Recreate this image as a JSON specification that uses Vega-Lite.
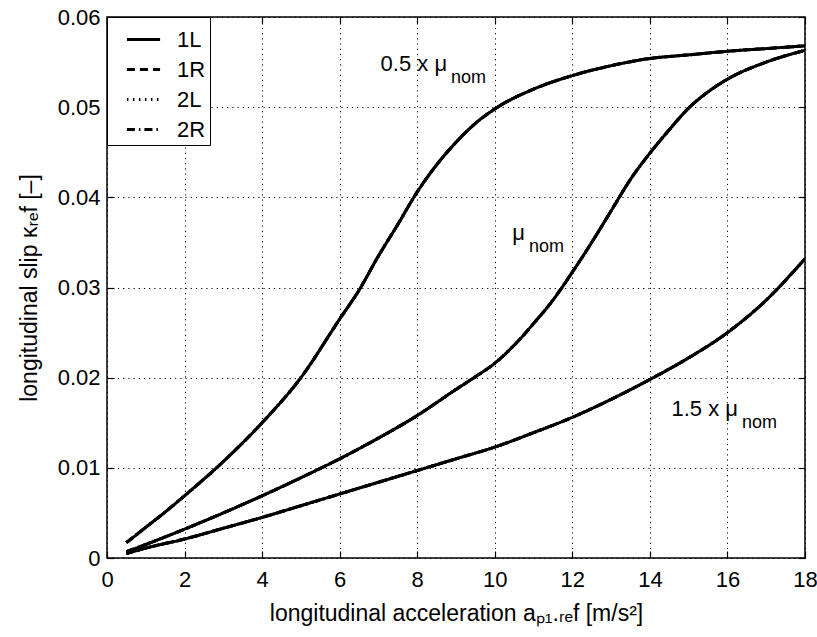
{
  "$schema": "https://vega.github.io/schema/vega-lite/v6.json",
  "width": 698,
  "height": 541,
  "autosize": {"type": "none"},
  "padding": {"left": 107, "top": 17, "right": 12, "bottom": 79},
  "background": "white",
  "config": {
    "font": "Liberation Sans",
    "view": {"stroke": "black", "strokeWidth": 1.5},
    "axis": {
      "labelFont": "Liberation Sans", "titleFont": "Liberation Sans",
      "labelFontSize": 22, "titleFontSize": 23, "labelColor": "black", "titleColor": "black",
      "titleFontWeight": "normal", "domain": false, "labelFlush": false,
      "tickColor": "black", "tickSize": -7, "tickWidth": 1.2,
      "grid": true, "gridColor": "black", "gridOpacity": 1, "gridDash": [1.2, 4], "gridWidth": 1
    }
  },
  "resolve": {"axis": {"x": "independent", "y": "independent"}},
  "datasets": {
    "curves": [
      {"cond": "0.5", "a": 0.5, "1L": 0.0017, "1R": 0.0017, "2L": 0.0017, "2R": 0.0017},
      {"cond": "0.5", "a": 1, "1L": 0.0034, "1R": 0.0034, "2L": 0.0034, "2R": 0.0034},
      {"cond": "0.5", "a": 1.5, "1L": 0.0051, "1R": 0.0051, "2L": 0.0051, "2R": 0.0051},
      {"cond": "0.5", "a": 2, "1L": 0.0069, "1R": 0.0069, "2L": 0.0069, "2R": 0.0069},
      {"cond": "0.5", "a": 3, "1L": 0.0107, "1R": 0.0107, "2L": 0.0107, "2R": 0.0107},
      {"cond": "0.5", "a": 4, "1L": 0.0150, "1R": 0.0150, "2L": 0.0150, "2R": 0.0150},
      {"cond": "0.5", "a": 5, "1L": 0.0200, "1R": 0.0200, "2L": 0.0200, "2R": 0.0200},
      {"cond": "0.5", "a": 6, "1L": 0.0265, "1R": 0.0265, "2L": 0.0265, "2R": 0.0265},
      {"cond": "0.5", "a": 6.5, "1L": 0.0297, "1R": 0.0297, "2L": 0.0297, "2R": 0.0297},
      {"cond": "0.5", "a": 7, "1L": 0.0335, "1R": 0.0335, "2L": 0.0335, "2R": 0.0335},
      {"cond": "0.5", "a": 7.5, "1L": 0.0370, "1R": 0.0370, "2L": 0.0370, "2R": 0.0370},
      {"cond": "0.5", "a": 8, "1L": 0.0406, "1R": 0.0406, "2L": 0.0406, "2R": 0.0406},
      {"cond": "0.5", "a": 8.5, "1L": 0.0436, "1R": 0.0436, "2L": 0.0436, "2R": 0.0436},
      {"cond": "0.5", "a": 9, "1L": 0.0461, "1R": 0.0461, "2L": 0.0461, "2R": 0.0461},
      {"cond": "0.5", "a": 9.5, "1L": 0.0482, "1R": 0.0482, "2L": 0.0482, "2R": 0.0482},
      {"cond": "0.5", "a": 10, "1L": 0.0498, "1R": 0.0498, "2L": 0.0498, "2R": 0.0498},
      {"cond": "0.5", "a": 11, "1L": 0.0520, "1R": 0.0520, "2L": 0.0520, "2R": 0.0520},
      {"cond": "0.5", "a": 12, "1L": 0.0535, "1R": 0.0535, "2L": 0.0535, "2R": 0.0535},
      {"cond": "0.5", "a": 13, "1L": 0.0546, "1R": 0.0546, "2L": 0.0546, "2R": 0.0546},
      {"cond": "0.5", "a": 14, "1L": 0.0554, "1R": 0.0554, "2L": 0.0554, "2R": 0.0554},
      {"cond": "0.5", "a": 15, "1L": 0.0558, "1R": 0.0558, "2L": 0.0558, "2R": 0.0558},
      {"cond": "0.5", "a": 16, "1L": 0.0562, "1R": 0.0562, "2L": 0.0562, "2R": 0.0562},
      {"cond": "0.5", "a": 17, "1L": 0.0565, "1R": 0.0565, "2L": 0.0565, "2R": 0.0565},
      {"cond": "0.5", "a": 18, "1L": 0.0568, "1R": 0.0568, "2L": 0.0568, "2R": 0.0568},
      {"cond": "1.0", "a": 0.5, "1L": 0.0007, "1R": 0.0007, "2L": 0.0007, "2R": 0.0007},
      {"cond": "1.0", "a": 1, "1L": 0.0015, "1R": 0.0015, "2L": 0.0015, "2R": 0.0015},
      {"cond": "1.0", "a": 2, "1L": 0.0032, "1R": 0.0032, "2L": 0.0032, "2R": 0.0032},
      {"cond": "1.0", "a": 3, "1L": 0.0050, "1R": 0.0050, "2L": 0.0050, "2R": 0.0050},
      {"cond": "1.0", "a": 4, "1L": 0.0069, "1R": 0.0069, "2L": 0.0069, "2R": 0.0069},
      {"cond": "1.0", "a": 5, "1L": 0.0089, "1R": 0.0089, "2L": 0.0089, "2R": 0.0089},
      {"cond": "1.0", "a": 6, "1L": 0.0110, "1R": 0.0110, "2L": 0.0110, "2R": 0.0110},
      {"cond": "1.0", "a": 7, "1L": 0.0133, "1R": 0.0133, "2L": 0.0133, "2R": 0.0133},
      {"cond": "1.0", "a": 8, "1L": 0.0158, "1R": 0.0158, "2L": 0.0158, "2R": 0.0158},
      {"cond": "1.0", "a": 9, "1L": 0.0187, "1R": 0.0187, "2L": 0.0187, "2R": 0.0187},
      {"cond": "1.0", "a": 9.5, "1L": 0.0201, "1R": 0.0201, "2L": 0.0201, "2R": 0.0201},
      {"cond": "1.0", "a": 10, "1L": 0.0216, "1R": 0.0216, "2L": 0.0216, "2R": 0.0216},
      {"cond": "1.0", "a": 10.5, "1L": 0.0236, "1R": 0.0236, "2L": 0.0236, "2R": 0.0236},
      {"cond": "1.0", "a": 11, "1L": 0.0260, "1R": 0.0260, "2L": 0.0260, "2R": 0.0260},
      {"cond": "1.0", "a": 11.5, "1L": 0.0286, "1R": 0.0286, "2L": 0.0286, "2R": 0.0286},
      {"cond": "1.0", "a": 12, "1L": 0.0317, "1R": 0.0317, "2L": 0.0317, "2R": 0.0317},
      {"cond": "1.0", "a": 12.5, "1L": 0.0350, "1R": 0.0350, "2L": 0.0350, "2R": 0.0350},
      {"cond": "1.0", "a": 13, "1L": 0.0385, "1R": 0.0385, "2L": 0.0385, "2R": 0.0385},
      {"cond": "1.0", "a": 13.5, "1L": 0.0420, "1R": 0.0420, "2L": 0.0420, "2R": 0.0420},
      {"cond": "1.0", "a": 14, "1L": 0.0449, "1R": 0.0449, "2L": 0.0449, "2R": 0.0449},
      {"cond": "1.0", "a": 14.5, "1L": 0.0475, "1R": 0.0475, "2L": 0.0475, "2R": 0.0475},
      {"cond": "1.0", "a": 15, "1L": 0.0499, "1R": 0.0499, "2L": 0.0499, "2R": 0.0499},
      {"cond": "1.0", "a": 15.5, "1L": 0.0517, "1R": 0.0517, "2L": 0.0517, "2R": 0.0517},
      {"cond": "1.0", "a": 16, "1L": 0.0531, "1R": 0.0531, "2L": 0.0531, "2R": 0.0531},
      {"cond": "1.0", "a": 17, "1L": 0.0550, "1R": 0.0550, "2L": 0.0550, "2R": 0.0550},
      {"cond": "1.0", "a": 18, "1L": 0.0563, "1R": 0.0563, "2L": 0.0563, "2R": 0.0563},
      {"cond": "1.5", "a": 0.5, "1L": 0.0005, "1R": 0.0005, "2L": 0.0005, "2R": 0.0005},
      {"cond": "1.5", "a": 1, "1L": 0.0011, "1R": 0.0011, "2L": 0.0011, "2R": 0.0011},
      {"cond": "1.5", "a": 2, "1L": 0.0021, "1R": 0.0021, "2L": 0.0021, "2R": 0.0021},
      {"cond": "1.5", "a": 3, "1L": 0.0033, "1R": 0.0033, "2L": 0.0033, "2R": 0.0033},
      {"cond": "1.5", "a": 4, "1L": 0.0045, "1R": 0.0045, "2L": 0.0045, "2R": 0.0045},
      {"cond": "1.5", "a": 5, "1L": 0.0058, "1R": 0.0058, "2L": 0.0058, "2R": 0.0058},
      {"cond": "1.5", "a": 6, "1L": 0.0071, "1R": 0.0071, "2L": 0.0071, "2R": 0.0071},
      {"cond": "1.5", "a": 7, "1L": 0.0084, "1R": 0.0084, "2L": 0.0084, "2R": 0.0084},
      {"cond": "1.5", "a": 8, "1L": 0.0097, "1R": 0.0097, "2L": 0.0097, "2R": 0.0097},
      {"cond": "1.5", "a": 9, "1L": 0.0110, "1R": 0.0110, "2L": 0.0110, "2R": 0.0110},
      {"cond": "1.5", "a": 10, "1L": 0.0123, "1R": 0.0123, "2L": 0.0123, "2R": 0.0123},
      {"cond": "1.5", "a": 11, "1L": 0.0139, "1R": 0.0139, "2L": 0.0139, "2R": 0.0139},
      {"cond": "1.5", "a": 12, "1L": 0.0156, "1R": 0.0156, "2L": 0.0156, "2R": 0.0156},
      {"cond": "1.5", "a": 13, "1L": 0.0176, "1R": 0.0176, "2L": 0.0176, "2R": 0.0176},
      {"cond": "1.5", "a": 14, "1L": 0.0198, "1R": 0.0198, "2L": 0.0198, "2R": 0.0198},
      {"cond": "1.5", "a": 15, "1L": 0.0222, "1R": 0.0222, "2L": 0.0222, "2R": 0.0222},
      {"cond": "1.5", "a": 16, "1L": 0.0250, "1R": 0.0250, "2L": 0.0250, "2R": 0.0250},
      {"cond": "1.5", "a": 17, "1L": 0.0286, "1R": 0.0286, "2L": 0.0286, "2R": 0.0286},
      {"cond": "1.5", "a": 18, "1L": 0.0332, "1R": 0.0332, "2L": 0.0332, "2R": 0.0332}
    ],
    "labels": [
      {"a": 8.77, "k": 0.0540, "main": "0.5 x μ", "sub": "nom"},
      {"a": 10.78, "k": 0.0353, "main": "μ", "sub": "nom"},
      {"a": 16.27, "k": 0.0157, "main": "1.5 x μ", "sub": "nom"}
    ]
  },
  "layer": [
    {
      "data": {"name": "curves"},
      "transform": [{"fold": ["2R", "2L", "1R", "1L"], "as": ["wheel", "kappa"]}],
      "mark": {"type": "line", "color": "black", "strokeWidth": 3, "clip": true, "interpolate": "monotone"},
      "encoding": {
        "x": {
          "field": "a", "type": "quantitative",
          "scale": {"domain": [0, 18], "nice": false, "zero": false},
          "axis": {"values": [0, 2, 4, 6, 8, 10, 12, 14, 16, 18], "title": "longitudinal acceleration  aₚ₁.ᵣₑf  [m/s²]", "labelPadding": 18, "titlePadding": 12}
        },
        "y": {
          "field": "kappa", "type": "quantitative",
          "scale": {"domain": [0, 0.06], "nice": false},
          "axis": {"values": [0, 0.01, 0.02, 0.03, 0.04, 0.05, 0.06], "format": ".2~f", "title": "longitudinal slip  κᵣₑf [–]", "labelPadding": 14, "titlePadding": 16}
        },
        "strokeDash": {
          "field": "wheel", "type": "nominal",
          "scale": {"domain": ["1L", "1R", "2L", "2R"], "range": [[1, 0], [8, 5], [1.5, 4.5], [8, 4, 1.5, 4]]},
          "legend": {
            "title": null, "orient": "top-left", "offset": 0,
            "fillColor": "white", "strokeColor": "black", "padding": 4,
            "symbolType": "stroke", "symbolSize": 1100, "symbolStrokeWidth": 3,
            "symbolStrokeColor": "black", "labelFontSize": 22, "labelColor": "black",
            "labelFont": "Liberation Sans", "rowPadding": 0, "symbolOffset": 14, "labelOffset": 15
          }
        },
        "detail": {"field": "cond"}
      }
    },
    {
      "data": {"name": "curves"},
      "mark": {"type": "point", "opacity": 0},
      "encoding": {
        "x": {"field": "a", "type": "quantitative", "axis": {"orient": "top", "values": [0, 2, 4, 6, 8, 10, 12, 14, 16, 18], "labels": false, "grid": false, "title": null}},
        "y": {"field": "1L", "type": "quantitative", "axis": {"orient": "right", "values": [0, 0.01, 0.02, 0.03, 0.04, 0.05, 0.06], "labels": false, "grid": false, "title": null}}
      }
    },
    {
      "data": {"name": "labels"},
      "mark": {"type": "text", "align": "right", "baseline": "alphabetic", "fontSize": 22, "font": "Liberation Sans", "color": "black"},
      "encoding": {
        "x": {"field": "a", "type": "quantitative", "axis": null},
        "y": {"field": "k", "type": "quantitative", "axis": null},
        "text": {"field": "main"}
      }
    },
    {
      "data": {"name": "labels"},
      "mark": {"type": "text", "align": "left", "baseline": "alphabetic", "fontSize": 18, "font": "Liberation Sans", "color": "black", "dx": 4, "dy": 12},
      "encoding": {
        "x": {"field": "a", "type": "quantitative", "axis": null},
        "y": {"field": "k", "type": "quantitative", "axis": null},
        "text": {"field": "sub"}
      }
    }
  ]
}
